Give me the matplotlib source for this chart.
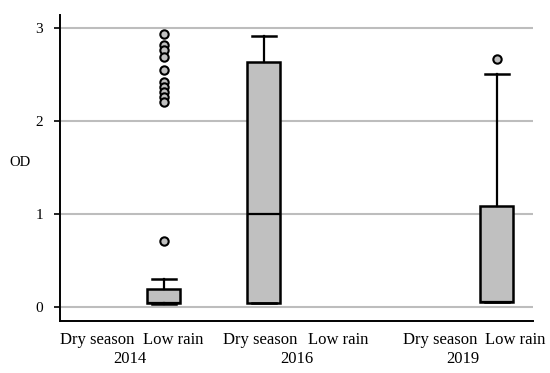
import matplotlib.pyplot as plt
import matplotlib.transforms as mtransforms

# categories along the x axis (label centres) and the year groups
labels = ['Dry season', 'Low rain', 'Dry season', 'Low rain', 'Dry season', 'Low rain']
label_pos = [0.97, 1.735, 2.605, 3.38, 4.40, 5.155]
years = ['2014', '2016', '2019']
year_pos = [1.30, 2.97, 4.63]

# box statistics (only three groups have data)
box_pos = [1.64, 2.64, 4.97]
q1 = [0.04, 0.05, 0.06]
med = [0.04, 1.0, 0.06]
q3 = [0.20, 2.64, 1.09]
whislo = [0.03, 0.05, 0.06]
whishi = [0.30, 2.92, 2.51]
fliers = [
    [2.94, 2.82, 2.77, 2.69, 2.55, 2.42, 2.37, 2.32, 2.26, 2.21, 0.71],
    [],
    [2.67],
]

plt.rcParams['font.family'] = ['Liberation Serif', 'DejaVu Serif']

fig = plt.figure(figsize=(5.5, 3.73), dpi=100)
ax = fig.add_axes([0.109, 0.139, 0.860, 0.820])

stats = []
for k in range(len(box_pos)):
    stats.append(dict(med=med[k], q1=q1[k], q3=q3[k],
                      whislo=whislo[k], whishi=whishi[k], fliers=fliers[k]))

ax.bxp(stats, positions=box_pos, widths=0.33,
       capwidths=0.24, patch_artist=True, manage_ticks=False,
       boxprops=dict(facecolor='#c0c0c0', edgecolor='black', linewidth=1.8),
       medianprops=dict(color='black', linewidth=1.6),
       whiskerprops=dict(color='black', linewidth=1.6),
       capprops=dict(color='black', linewidth=1.8),
       flierprops=dict(marker='o', markerfacecolor='#c0c0c0',
                       markeredgecolor='black', markersize=6, markeredgewidth=1.5),
       zorder=3)

for v in [0, 1, 2, 3]:
    ax.axhline(v, color='#bdbdbd', linewidth=1.5, zorder=1)

ax.set_xlim(0.6, 5.33)
ax.set_ylim(-0.15, 3.14)
ax.set_yticks([0, 1, 2, 3])
ax.set_yticklabels(['0', '1', '2', '3'], fontsize=11)
ax.set_xticks(label_pos)
ax.set_xticklabels(labels, fontsize=12)
ax.tick_params(axis='x', length=0, pad=8)
ax.tick_params(axis='y', length=4, width=1.2, pad=8)

for s in ['top', 'right']:
    ax.spines[s].set_visible(False)
for s in ['left', 'bottom']:
    ax.spines[s].set_linewidth(1.4)

trans = mtransforms.blended_transform_factory(ax.transData, ax.transAxes)
for x, yr in zip(year_pos, years):
    ax.text(x, -0.098, yr, transform=trans, ha='center', va='top', fontsize=12)

ax.text(-0.085, 0.52, 'OD', transform=ax.transAxes, ha='center', va='center', fontsize=10.5)

fig.savefig('out.png', dpi=100)
